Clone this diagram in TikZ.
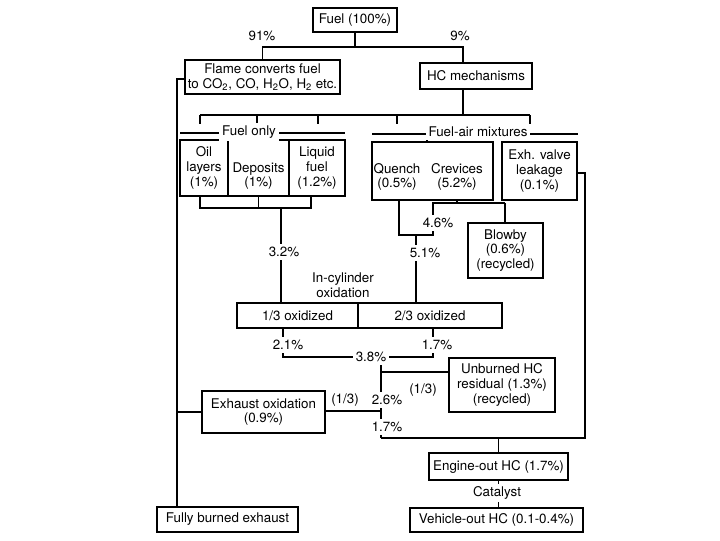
\documentclass[tikz,border=0pt]{standalone}
\usepackage{fontspec}
\setmainfont{TeX Gyre Heros}
\begin{document}
\begin{tikzpicture}[x=0.025cm,y=-0.025cm,line width=1.1pt,
	box/.style={draw,inner sep=0pt,align=center,font=\fontsize{9.5}{10.5}\selectfont},
	txt/.style={inner sep=0.5pt,align=center,font=\fontsize{9.5}{10.5}\selectfont},
	lbl/.style={txt,fill=white,inner sep=2pt}]
			\useasboundingbox (0,0) rectangle (720,540);
			
			\node[box,minimum width=2.1cm,minimum height=0.6cm](fuel) at (355,20) {Fuel (100\%)};
			\node[box,minimum width=3.875cm,minimum height=0.85cm](flame) at (262.5,77) {Flame converts fuel\\to CO\textsubscript{2}, CO, H\textsubscript{2}O, H\textsubscript{2} etc.};
			\node[box,minimum width=2.8cm,minimum height=0.65cm](hcmech) at (476,76) {HC mechanisms};
			
			\node[box,minimum width=1.2cm,minimum height=1.4cm](oil) at (204,168) {Oil\\layers\\(1\%)};
			\node[box,minimum width=1.525cm,minimum height=1.4cm](deposits) at (258.5,168) {};
			\node[txt](deptxt) at (258.5,176) {Deposits\\(1\%)};
			\node[box,minimum width=1.4cm,minimum height=1.4cm](liquid) at (317,168) {Liquid\\fuel\\(1.2\%)};
			\node[box,minimum width=3.025cm,minimum height=1.45cm](qcbox) at (432.5,171) {};
			\node[txt](quench) at (397,177) {Quench\\(0.5\%)};
			\node[txt](crevices) at (457,177) {Crevices\\(5.2\%)};
			\node[box,minimum width=1.875cm,minimum height=1.45cm](exh) at (539.5,171) {Exh. valve\\leakage\\(0.1\%)};
			\node[box,minimum width=1.875cm,minimum height=1.375cm](blowby) at (505.5,250.5) {Blowby\\(0.6\%)\\(recycled)};
			
			\node[box,minimum width=3.025cm,minimum height=0.625cm](ox13) at (297.5,315.5) {1/3 oxidized};
			\node[box,minimum width=3.6cm,minimum height=0.625cm](ox23) at (430,315.5) {2/3 oxidized};
			\node[box,minimum width=2.65cm,minimum height=1.35cm](unburned) at (502,385) {Unburned HC\\residual (1.3\%)\\(recycled)};
			\node[box,minimum width=3.075cm,minimum height=1.05cm](exox) at (263.5,412) {Exhaust oxidation\\(0.9\%)};
			\node[box,minimum width=3.475cm,minimum height=0.675cm](engout) at (498.5,466.5) {Engine-out HC (1.7\%)};
			\node[box,minimum width=4.325cm,minimum height=0.6cm](vehout) at (496.5,520) {Vehicle-out HC (0.1-0.4\%)};
			\node[box,minimum width=3.525cm,minimum height=0.625cm](burned) at (227.5,519.5) {Fully burned exhaust};
			
			\coordinate[](split) at (355,47);
			\coordinate[](hcin) at (463,63);
			\coordinate[](hcout) at (463,89);
			\coordinate[](lft) at (177,79);
			\coordinate[](bar) at (463,115);
			\coordinate[](b1) at (200,208);
			\coordinate[](b2) at (311,208);
			\coordinate[](fo) at (281,208);
			\coordinate[](cv) at (457,203);
			\coordinate[](c1) at (433,203);
			\coordinate[](c2) at (505,203);
			\coordinate[](q1) at (399,235);
			\coordinate[](q2) at (433,235);
			\coordinate[](qm) at (416,235);
			\coordinate[](o1) at (283,357);
			\coordinate[](o2) at (433,357);
			\coordinate[](m0) at (381,357);
			\coordinate[](m1) at (381,372);
			\coordinate[](m3) at (381,411);
			\coordinate[](m2) at (381,438);
			\coordinate[](r1) at (585,173);
			\coordinate[](r2) at (585,438);
			
			\draw (fuel) -- (split);
			\draw (flame.north) |- (split) -| (hcin);
			\draw (flame.west |- lft) -- (lft) -- (lft |- burned.north);
			\draw (hcout) -- (bar);
			\draw (200,115) -- (530,115);
			\foreach \x in {200,257,318,397,530}
				\draw (\x,115) -- (\x,124);
			\draw (427,136) -- (qcbox.north -| 427,0);
			\draw (180,133) -- (345,133);
			\draw (372,134) -- (578,134);
			
			\draw (oil.south -| b1) |- (b2) -- (liquid.south -| b2);
			\draw (deposits.south) -- (deposits.south |- fo);
			\draw (fo) -- (ox13.north -| fo);
			\draw (qcbox.south -| cv) -- (cv);
			\draw (c2) -- (c1) -- (q2) -- (q1) -- (qcbox.south -| q1);
			\draw (c2) -- (blowby.north -| c2);
			\draw (qm) -- (ox23.north -| qm);
			\draw (exh.east |- r1) -- (r1) -- (r2) -- (m2);
			
			\draw (ox13.south -| o1) -- (o1) -- (o2) -- (ox23.south -| o2);
			\draw (m0) -- (m2);
			\draw (m1) -- (unburned.west |- m1);
			\draw (exox.east |- m3) -- (m3);
			\draw (exox.west) -- (exox.west -| lft);
			\draw (engout.north) -- (engout.north |- m2);
			\draw (engout.south) -- (engout.south |- vehout.north);
			
			\node[txt](p91) at (262,36) {91\%};
			\node[txt](p9) at (460,36) {9\%};
			\node[lbl](fuelonly) at (249,132) {Fuel only};
			\node[lbl](fuelair) at (478,132) {Fuel-air mixtures};
			\node[lbl](p46) at (438,223) {4.6\%};
			\node[lbl](p32) at (284,252) {3.2\%};
			\node[lbl](p51) at (425,253) {5.1\%};
			\node[txt](incyl) at (343,285) {In-cylinder\\oxidation};
			\node[lbl](p21) at (288,345) {2.1\%};
			\node[lbl](p17a) at (437,345) {1.7\%};
			\node[lbl](p38) at (371,357) {3.8\%};
			\node[txt](f13a) at (423,390) {(1/3)};
			\node[txt](f13b) at (345,400) {(1/3)};
			\node[lbl](p26) at (387,400) {2.6\%};
			\node[lbl](p17b) at (387,427) {1.7\%};
			\node[lbl](catalyst) at (497,493) {Catalyst};
			\end{tikzpicture}
\end{document}
